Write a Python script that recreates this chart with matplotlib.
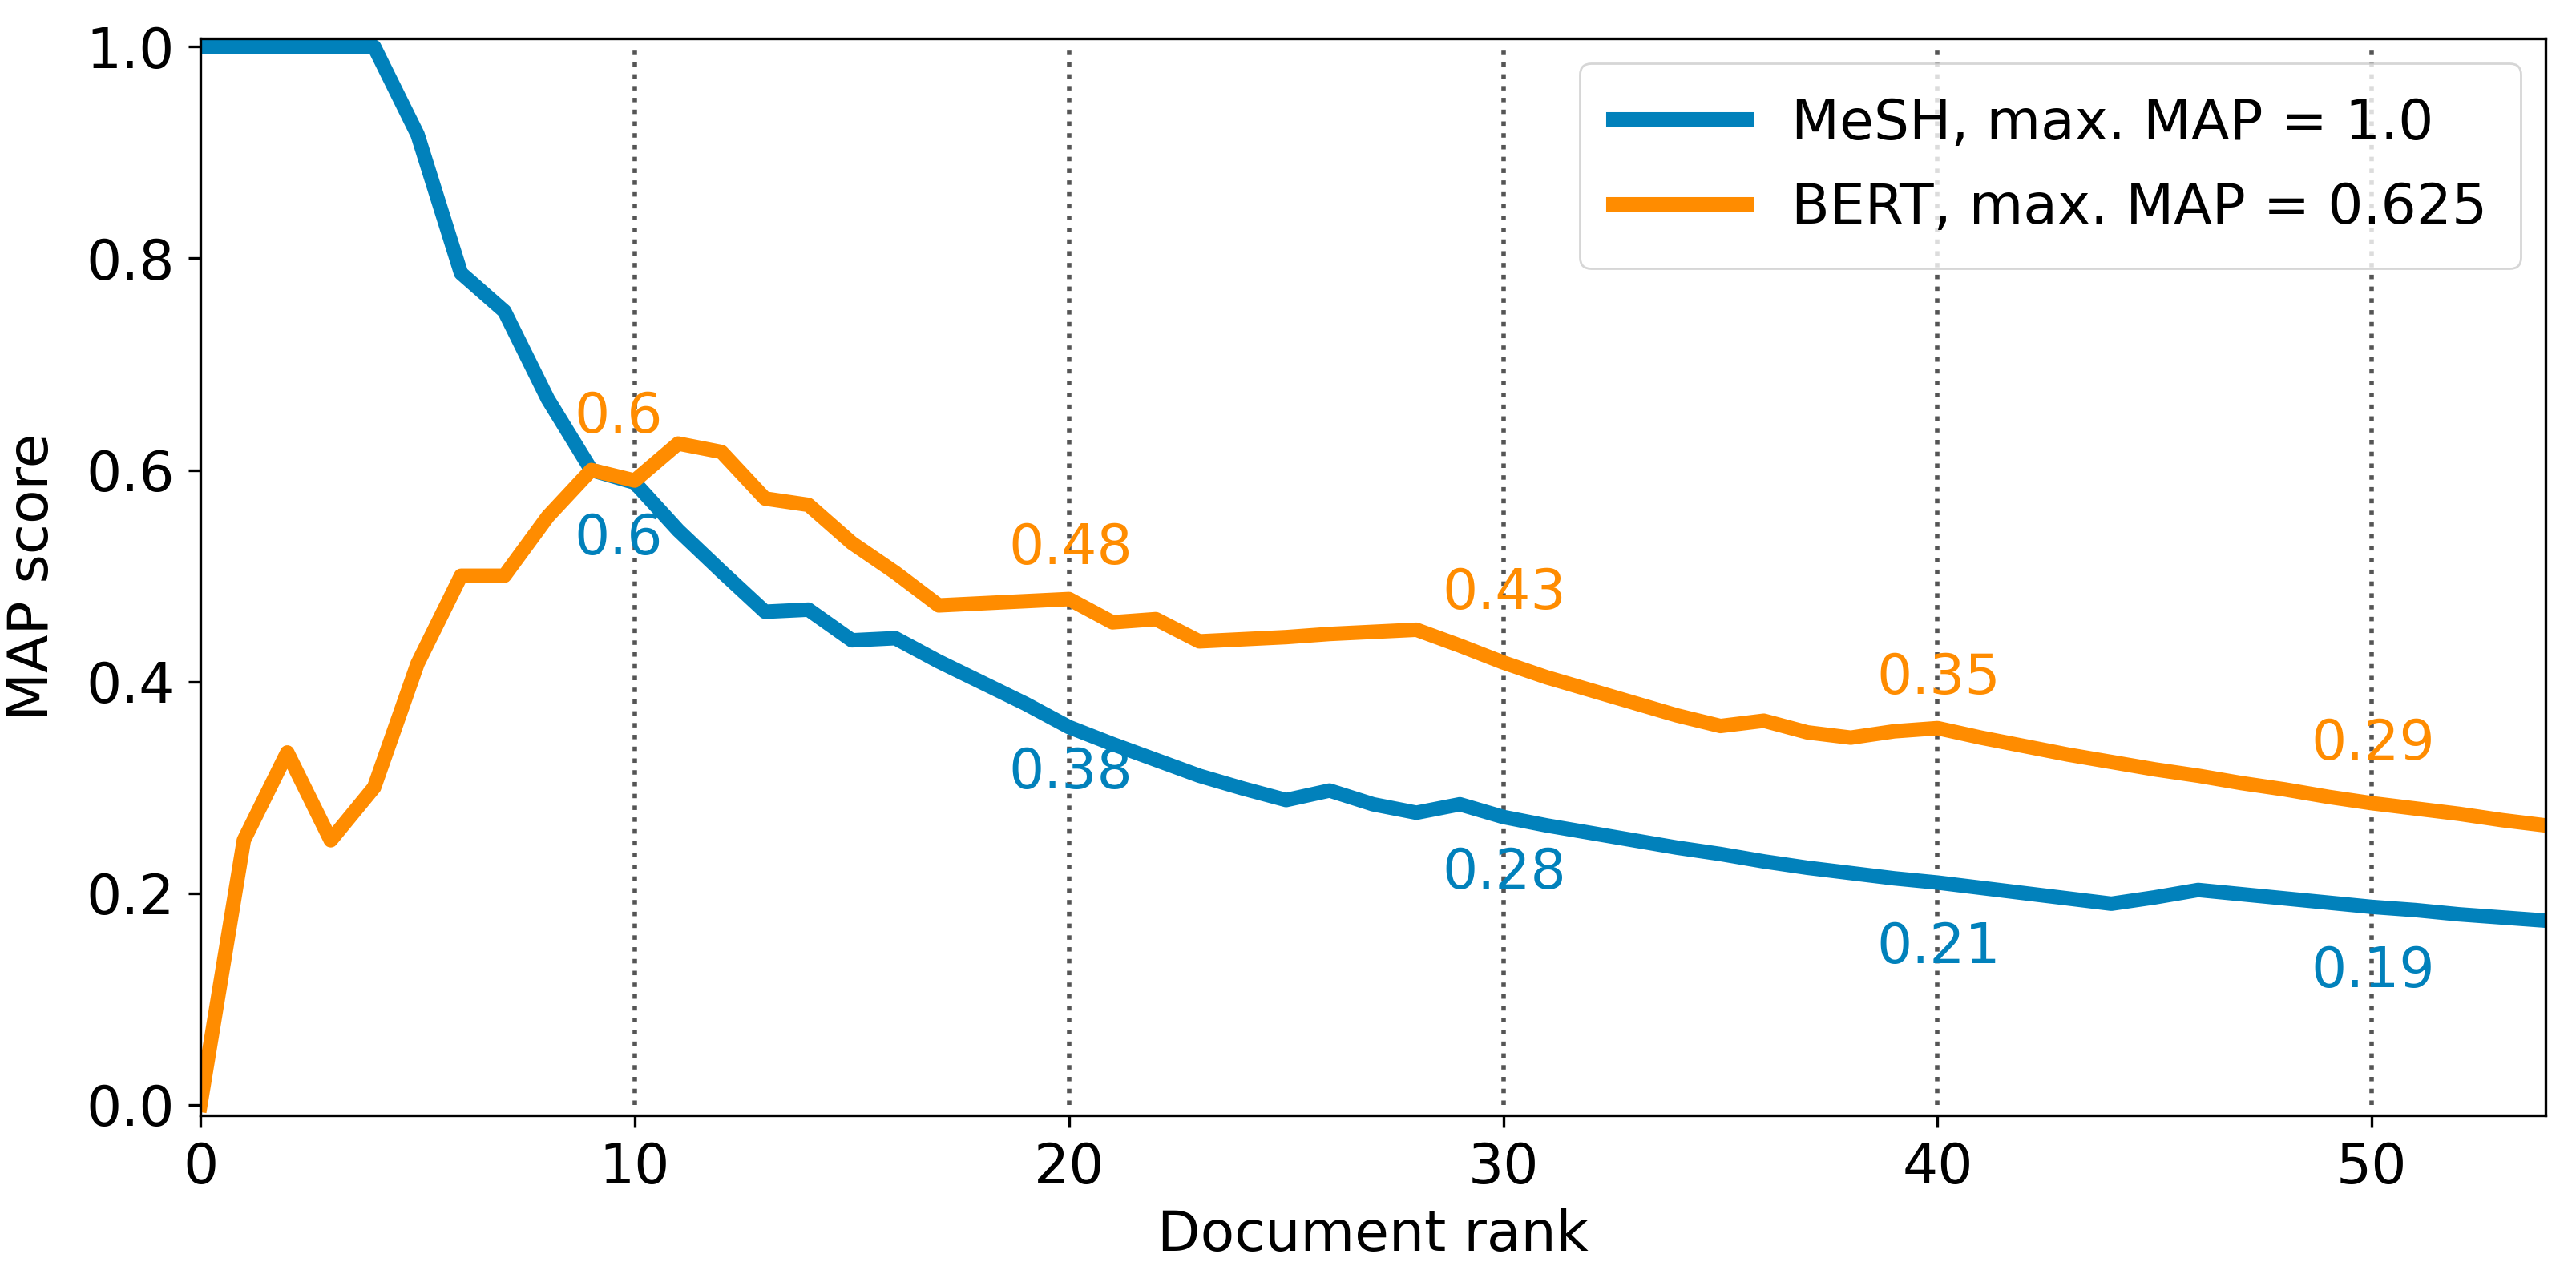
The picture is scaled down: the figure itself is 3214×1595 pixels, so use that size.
#!/usr/bin/env python3

import matplotlib

matplotlib.use("Agg")
import matplotlib.pyplot as plt

# MAP score per document rank
ranks = list(range(0, 55))

mesh_map = [
    1.0, 1.0, 1.0, 1.0, 1.0, 0.917, 0.786, 0.75, 0.667, 0.6,
    0.588, 0.543, 0.504, 0.466, 0.468, 0.439, 0.441, 0.419, 0.399, 0.379,
    0.357, 0.341, 0.326, 0.311, 0.299, 0.288, 0.297, 0.284, 0.276, 0.284,
    0.272, 0.264, 0.257, 0.250, 0.243, 0.237, 0.230, 0.224, 0.219, 0.214,
    0.210, 0.205, 0.200, 0.195, 0.190, 0.196, 0.203, 0.199, 0.195, 0.191,
    0.187, 0.184, 0.180, 0.177, 0.174,
]

bert_map = [
    0.0, 0.25, 0.333, 0.25, 0.3, 0.417, 0.5, 0.5, 0.556, 0.6,
    0.59, 0.625, 0.617, 0.573, 0.567, 0.531, 0.503, 0.472, 0.474, 0.476,
    0.478, 0.456, 0.459, 0.438, 0.440, 0.442, 0.445, 0.447, 0.449, 0.434,
    0.418, 0.404, 0.392, 0.380, 0.368, 0.358, 0.363, 0.352, 0.347, 0.353,
    0.356, 0.347, 0.339, 0.331, 0.324, 0.317, 0.311, 0.304, 0.298, 0.291,
    0.285, 0.280, 0.275, 0.269, 0.264,
]

# labelled points (index into the series) and their printed values
label_idx = [9, 19, 29, 39, 49]
mesh_labels = ["0.6", "0.38", "0.28", "0.21", "0.19"]
bert_labels = ["0.6", "0.48", "0.43", "0.35", "0.29"]
guide_ranks = [10, 20, 30, 40, 50]

MESH_COLOR = "#0181bb"
BERT_COLOR = "#ff8c00"

plt.rcParams["font.family"] = ["DejaVu Sans"]
plt.rcParams["font.size"] = 25

fig = plt.figure(figsize=(16.07, 7.975), dpi=200)
ax = fig.add_axes([0.0778, 0.1273, 0.9104, 0.8427])

ax.vlines(guide_ranks, 0, 1, colors="#555555", linestyles=":", linewidth=2)

ax.plot(ranks, mesh_map, color=MESH_COLOR, linewidth=6.5,
        label="MeSH, max. MAP = 1.0")
ax.plot(ranks, bert_map, color=BERT_COLOR, linewidth=6.5,
        label="BERT, max. MAP = 0.625")

for i, text in zip(label_idx, bert_labels):
    ax.text(i - 0.4, bert_map[i] + 0.035, text, color=BERT_COLOR,
            ha="left", va="baseline", fontsize=25)
for i, text in zip(label_idx, mesh_labels):
    ax.text(i - 0.4, mesh_map[i] - 0.08, text, color=MESH_COLOR,
            ha="left", va="baseline", fontsize=25)

ax.set_xlim(0, 54)
ax.set_ylim(-0.01, 1.008)
ax.set_xticks([0, 10, 20, 30, 40, 50])
ax.set_yticks([0.0, 0.2, 0.4, 0.6, 0.8, 1.0])
ax.tick_params(length=5.5, width=1.2, pad=6)
for spine in ax.spines.values():
    spine.set_linewidth(1.2)

ax.set_xlabel("Document rank", labelpad=6)
ax.set_ylabel("MAP score", labelpad=12)
ax.legend(loc="upper right", handlelength=2.4, borderpad=0.6,
          labelspacing=0.55, borderaxespad=0.45)

fig.savefig("out.png", dpi=200)
plt.close(fig)
